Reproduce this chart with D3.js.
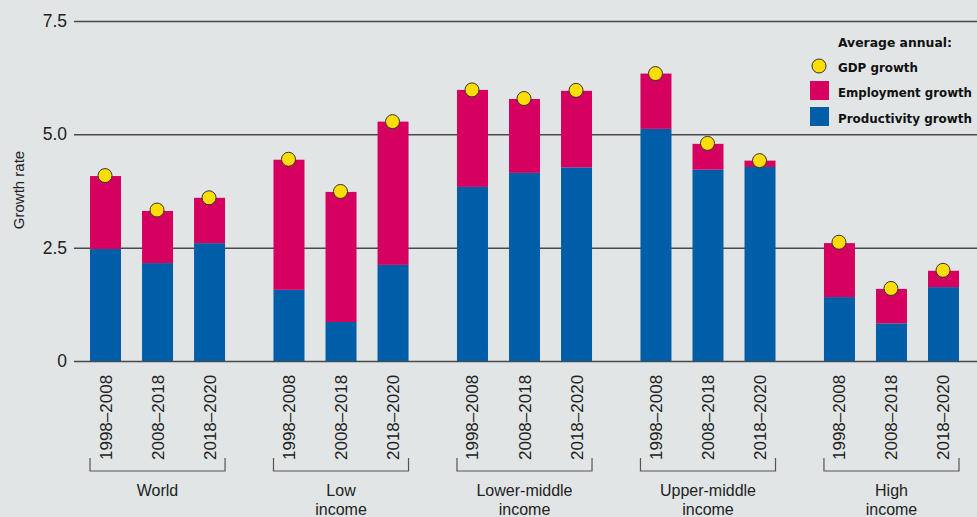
<!DOCTYPE html>
<html>
<head>
<meta charset="utf-8">
<script src="https://cdn.jsdelivr.net/npm/d3@7"></script>
<style>
  body { margin: 0; background: #e1e5e6; }
  svg { display: block; font-family: "Liberation Sans", Arial, sans-serif; }
</style>
</head>
<body>
<div id="chart"></div>
<script>
// chart data
var groups = ["World", "Low income", "Lower-middle income", "Upper-middle income", "High income"];
var groupLines = [["World"], ["Low", "income"], ["Lower-middle", "income"], ["Upper-middle", "income"], ["High", "income"]];
var periods = ["1998–2008", "2008–2018", "2018–2020"];
var productivity = [2.47, 2.16, 2.60, 1.57, 0.86, 2.12, 3.84, 4.15, 4.27, 5.12, 4.22, 4.28, 1.41, 0.83, 1.63];
var employment = [1.61, 1.15, 1.00, 2.87, 2.87, 3.16, 2.14, 1.63, 1.69, 1.22, 0.57, 0.14, 1.19, 0.76, 0.36];
var gdp = [4.09, 3.33, 3.60, 4.45, 3.74, 5.28, 5.98, 5.79, 5.97, 6.34, 4.80, 4.42, 2.62, 1.60, 2.00];
var yTicks = [0, 2.5, 5, 7.5];

var svgWidth = 977;
var svgHeight = 517;

var colors = { prod: "#005ea8", emp: "#d5005f", gdp: "#ffdd00" };

// build rows from the arrays
var rows = [];
groups.forEach(function(g, gi) {
  periods.forEach(function(p, pi) {
    var i = gi * periods.length + pi;
    rows.push({ group: g, period: p, prod: productivity[i], emp: employment[i], gdp: gdp[i] });
  });
});

var svg = d3.select("#chart")
  .append("svg")
  .attr("width", svgWidth)
  .attr("height", svgHeight);

svg.append("rect")
  .attr("width", svgWidth)
  .attr("height", svgHeight)
  .attr("fill", "#e1e5e6");

// scales
var yScale = d3.scaleLinear()
  .domain([0, 7.5])
  .range([361, 21]);

var xGroup = d3.scaleBand()
  .domain(groups)
  .range([90, 959])
  .paddingInner(0.264)
  .paddingOuter(0);

var xPeriod = d3.scaleBand()
  .domain(periods)
  .range([0, xGroup.bandwidth()])
  .paddingInner(0.404)
  .paddingOuter(0);

function barX(d) { return xGroup(d.group) + xPeriod(d.period); }

// y axis with gridlines
var leftAxis = d3.axisLeft(yScale)
  .tickValues(yTicks)
  .tickFormat(function(d) { return d === 0 ? "0" : d3.format(".1f")(d); })
  .tickSize(-(svgWidth - 74))
  .tickPadding(7);

var yAxisG = svg.append("g")
  .attr("transform", "translate(74,0)")
  .call(leftAxis);
yAxisG.select(".domain").remove();
yAxisG.selectAll(".tick line")
  .attr("stroke", "#4a4a4a")
  .attr("stroke-width", 1.5);
yAxisG.selectAll(".tick text")
  .attr("font-size", "17.5px")
  .attr("fill", "#222")
  .attr("font-family", "Liberation Sans, Arial, sans-serif");

// y axis title
svg.append("text")
  .attr("transform", "translate(24,190) rotate(-90)")
  .attr("text-anchor", "middle")
  .attr("font-size", "15px")
  .attr("fill", "#222")
  .text("Growth rate");

// stacked bars
var bars = svg.append("g");
bars.selectAll(".prod")
  .data(rows)
  .enter()
  .append("rect")
  .attr("x", barX)
  .attr("y", d => yScale(d.prod))
  .attr("width", xPeriod.bandwidth())
  .attr("height", d => yScale(0) - yScale(d.prod))
  .attr("fill", colors.prod);

bars.selectAll(".emp")
  .data(rows)
  .enter()
  .append("rect")
  .attr("x", barX)
  .attr("y", d => yScale(d.prod + d.emp))
  .attr("width", xPeriod.bandwidth())
  .attr("height", d => yScale(d.prod) - yScale(d.prod + d.emp))
  .attr("fill", colors.emp);

// gdp dots
bars.selectAll("circle")
  .data(rows)
  .enter()
  .append("circle")
  .attr("cx", d => barX(d) + xPeriod.bandwidth() / 2 - 0.5)
  .attr("cy", d => yScale(d.gdp))
  .attr("r", 7)
  .attr("fill", colors.gdp)
  .attr("stroke", "#333")
  .attr("stroke-width", 1);

// period labels, rotated
svg.append("g").selectAll("text")
  .data(rows)
  .enter()
  .append("text")
  .attr("transform", d => `translate(${barX(d) + xPeriod.bandwidth() / 2 + 6}, 460) rotate(-90)`)
  .attr("text-anchor", "start")
  .attr("font-size", "17px")
  .attr("fill", "#222")
  .text(d => d.period);

// group brackets
var brackets = svg.append("g");
groups.forEach(function(g, gi) {
  var x0 = xGroup(g);
  var x1 = xGroup(g) + xGroup.bandwidth();
  brackets.append("path")
    .attr("d", `M${x0},458V471H${x1}V458`)
    .attr("fill", "none")
    .attr("stroke", "#555")
    .attr("stroke-width", 1.2);

  var label = brackets.append("text")
    .attr("x", (x0 + x1) / 2)
    .attr("y", 496)
    .attr("text-anchor", "middle")
    .attr("font-size", "16px")
    .attr("fill", "#222");
  groupLines[gi].forEach(function(line, li) {
    label.append("tspan")
      .attr("x", (x0 + x1) / 2)
      .attr("dy", li === 0 ? 0 : 19)
      .text(line);
  });
});

// legend
var legend = svg.append("g")
  .attr("font-family", "'Liberation Sans Narrow', 'DejaVu Sans Condensed', sans-serif")
  .attr("font-weight", "bold")
  .attr("font-size", "13px")
  .attr("fill", "#111");

legend.append("text")
  .attr("x", 838)
  .attr("y", 47)
  .attr("textLength", 114)
  .attr("lengthAdjust", "spacingAndGlyphs")
  .text("Average annual:");

legend.append("circle")
  .attr("cx", 819)
  .attr("cy", 66)
  .attr("r", 7)
  .attr("fill", colors.gdp)
  .attr("stroke", "#333");

legend.append("text")
  .attr("x", 838)
  .attr("y", 72)
  .attr("textLength", 80)
  .attr("lengthAdjust", "spacingAndGlyphs")
  .text("GDP growth");

legend.append("rect")
  .attr("x", 810)
  .attr("y", 81)
  .attr("width", 19)
  .attr("height", 19)
  .attr("fill", colors.emp);

legend.append("text")
  .attr("x", 838)
  .attr("y", 97)
  .attr("textLength", 134)
  .attr("lengthAdjust", "spacingAndGlyphs")
  .text("Employment growth");

legend.append("rect")
  .attr("x", 810)
  .attr("y", 107)
  .attr("width", 19)
  .attr("height", 19)
  .attr("fill", colors.prod);

legend.append("text")
  .attr("x", 838)
  .attr("y", 123)
  .attr("textLength", 134)
  .attr("lengthAdjust", "spacingAndGlyphs")
  .text("Productivity growth");
</script>
</body>
</html>
